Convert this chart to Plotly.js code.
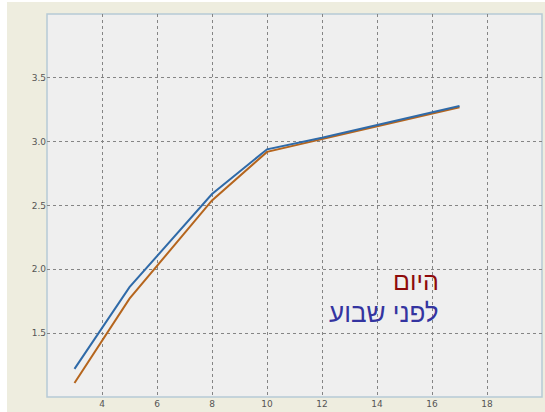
<!DOCTYPE html>
<html>
<head>
<meta charset="utf-8">
<script src="https://cdn.plot.ly/plotly-3.0.1.min.js"></script>
<style>html,body{margin:0;padding:0;background:#fff;}#chart{width:545px;height:412px;}</style>
</head>
<body>
<div id="chart"></div>
<script>
const xValues = [3, 5, 8, 10, 12, 14, 17];
const todayValues = [1.11, 1.77, 2.54, 2.92, 3.02, 3.12, 3.27];
const weekAgoValues = [1.22, 1.86, 2.59, 2.94, 3.03, 3.13, 3.28];
const xTicks = [4, 6, 8, 10, 12, 14, 16, 18];
const yTicks = [1.5, 2.0, 2.5, 3.0, 3.5];
const yTickLabels = ['1.5', '2.0', '2.5', '3.0', '3.5'];
const labelToday = 'היום';
const labelWeekAgo = 'לפני שבוע';

const traces = [
  {x: xValues, y: todayValues, type: 'scatter', mode: 'lines', line: {color: '#b5651d', width: 2}, name: labelToday},
  {x: xValues, y: weekAgoValues, type: 'scatter', mode: 'lines', line: {color: '#2f6aa8', width: 2}, name: labelWeekAgo}
];

const W = 545, H = 412, ml = 47, mr = 3, mt = 14, mb = 15;
const pw = W - ml - mr, ph = H - mt - mb;
function px(xp){ return (xp - ml) / pw; }
function py(yp){ return (H - mb - yp) / ph; }

const layout = {
  width: W, height: H,
  margin: {l: ml, r: mr, t: mt, b: mb, pad: 0},
  paper_bgcolor: '#ffffff',
  plot_bgcolor: 'rgba(0,0,0,0)',
  showlegend: false,
  font: {family: 'DejaVu Sans, sans-serif', size: 9, color: '#444'},
  xaxis: {
    range: [2, 20], tickvals: xTicks, ticktext: xTicks.map(String),
    showgrid: true, gridcolor: '#858585', griddash: 'dot', gridwidth: 1,
    zeroline: false, showline: false, ticks: '', fixedrange: true,
    tickfont: {size: 9, color: '#555'}
  },
  yaxis: {
    range: [1, 4], tickvals: yTicks, ticktext: yTickLabels,
    showgrid: true, gridcolor: '#858585', griddash: 'dot', gridwidth: 1,
    zeroline: false, showline: false, ticks: '', fixedrange: true,
    tickfont: {size: 9, color: '#555'}
  },
  shapes: [
    {type: 'rect', xref: 'paper', yref: 'paper', x0: px(7), x1: px(545), y0: py(2), y1: py(412),
     fillcolor: '#eeeddf', line: {width: 0}, layer: 'below'},
    {type: 'rect', xref: 'paper', yref: 'paper', x0: 0, x1: 1, y0: 0, y1: 1,
     fillcolor: '#efefef', line: {color: '#b7cad6', width: 1.5}, layer: 'below'}
  ],
  annotations: [
    {text: labelToday, xref: 'paper', yref: 'paper', x: px(441), y: py(281), xanchor: 'right', yanchor: 'middle',
     showarrow: false, font: {family: 'Liberation Sans, Arial, sans-serif', size: 25, color: '#8e0a0a'}},
    {text: labelWeekAgo, xref: 'paper', yref: 'paper', x: px(441), y: py(313), xanchor: 'right', yanchor: 'middle',
     showarrow: false, font: {family: 'Liberation Sans, Arial, sans-serif', size: 26, color: '#3434a0'}}
  ]
};

Plotly.newPlot('chart', traces, layout, {displayModeBar: false, staticPlot: true});
</script>
</body>
</html>
